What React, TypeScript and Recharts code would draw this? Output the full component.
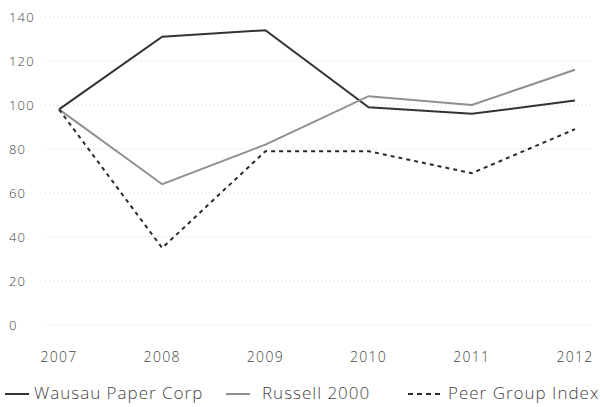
import React from 'react';
import { LineChart, Line, XAxis, YAxis, CartesianGrid, Legend } from 'recharts';

const years = ['2007', '2008', '2009', '2010', '2011', '2012'];
const wausau = [98, 131, 134, 99, 96, 102];
const russell = [98, 64, 82, 104, 100, 116];
const peer = [98, 35, 79, 79, 69, 89];
const yTicks = [0, 20, 40, 60, 80, 100, 120, 140];

const data = years.map((year, i) => ({
  year,
  wausau: wausau[i],
  russell: russell[i],
  peer: peer[i],
}));

const FONT = '"Open Sans", sans-serif';
const TEXT = '#444';

// legend slots: icon x, text x
const series = [
  { key: 'wausau', name: 'Wausau Paper Corp', color: '#333', dash: undefined, icon: 5, text: 34 },
  { key: 'russell', name: 'Russell 2000', color: '#8f8f8f', dash: undefined, icon: 226, text: 262 },
  { key: 'peer', name: 'Peer Group Index', color: '#2a2a2a', dash: '4 4', icon: 408, text: 448 },
];

function YTick({ y, payload }: any) {
  return (
    <text x={9} y={y} dy={5} textAnchor="start" fill={TEXT} fontSize={13} fontFamily={FONT} fontWeight={300} letterSpacing={1.2}>
      {payload.value}
    </text>
  );
}

function LegendContent() {
  return (
    <div style={{ position: 'relative', height: 24, fontFamily: FONT, fontWeight: 300, fontSize: 17, color: TEXT, letterSpacing: 1 }}>
      {series.map(s => (
        <React.Fragment key={s.key}>
          <svg width={32} height={4} style={{ position: 'absolute', left: s.icon, top: 11 }}>
            <line x1={0} y1={2} x2={s.dash ? 32 : 24} y2={2} stroke={s.color} strokeWidth={2} strokeDasharray={s.dash ? '5 4' : undefined} />
          </svg>
          <span style={{ position: 'absolute', left: s.text, top: 0, lineHeight: '24px', whiteSpace: 'nowrap' }}>{s.name}</span>
        </React.Fragment>
      ))}
    </div>
  );
}

export default function App() {
  return (
    <div style={{ position: 'absolute', left: 0, top: 0, background: '#fff' }}>
      <LineChart width={600} height={407} data={data} margin={{ top: 17, right: 10, left: 0, bottom: 0 }}>
        <CartesianGrid vertical={false} stroke="#cfcfcf" strokeDasharray="1 3" />
        <XAxis
          dataKey="year"
          axisLine={false}
          tickLine={false}
          tickSize={0}
          tickMargin={27}
          padding={{ left: 14, right: 15 }}
          height={56}
          tick={{ fill: TEXT, fontSize: 14, fontFamily: FONT, fontWeight: 300, letterSpacing: 1.3 }}
        />
        <YAxis
          width={45}
          domain={[0, 140]}
          ticks={yTicks}
          axisLine={false}
          tickLine={false}
          tick={<YTick />}
        />
        <Legend
          verticalAlign="bottom"
          height={26}
          wrapperStyle={{ left: 0, width: 600 }}
          content={<LegendContent />}
        />
        {series.map(s => (
          <Line
            key={s.key}
            type="linear"
            dataKey={s.key}
            name={s.name}
            stroke={s.color}
            strokeWidth={2}
            strokeDasharray={s.dash}
            dot={false}
            isAnimationActive={false}
          />
        ))}
      </LineChart>
    </div>
  );
}
